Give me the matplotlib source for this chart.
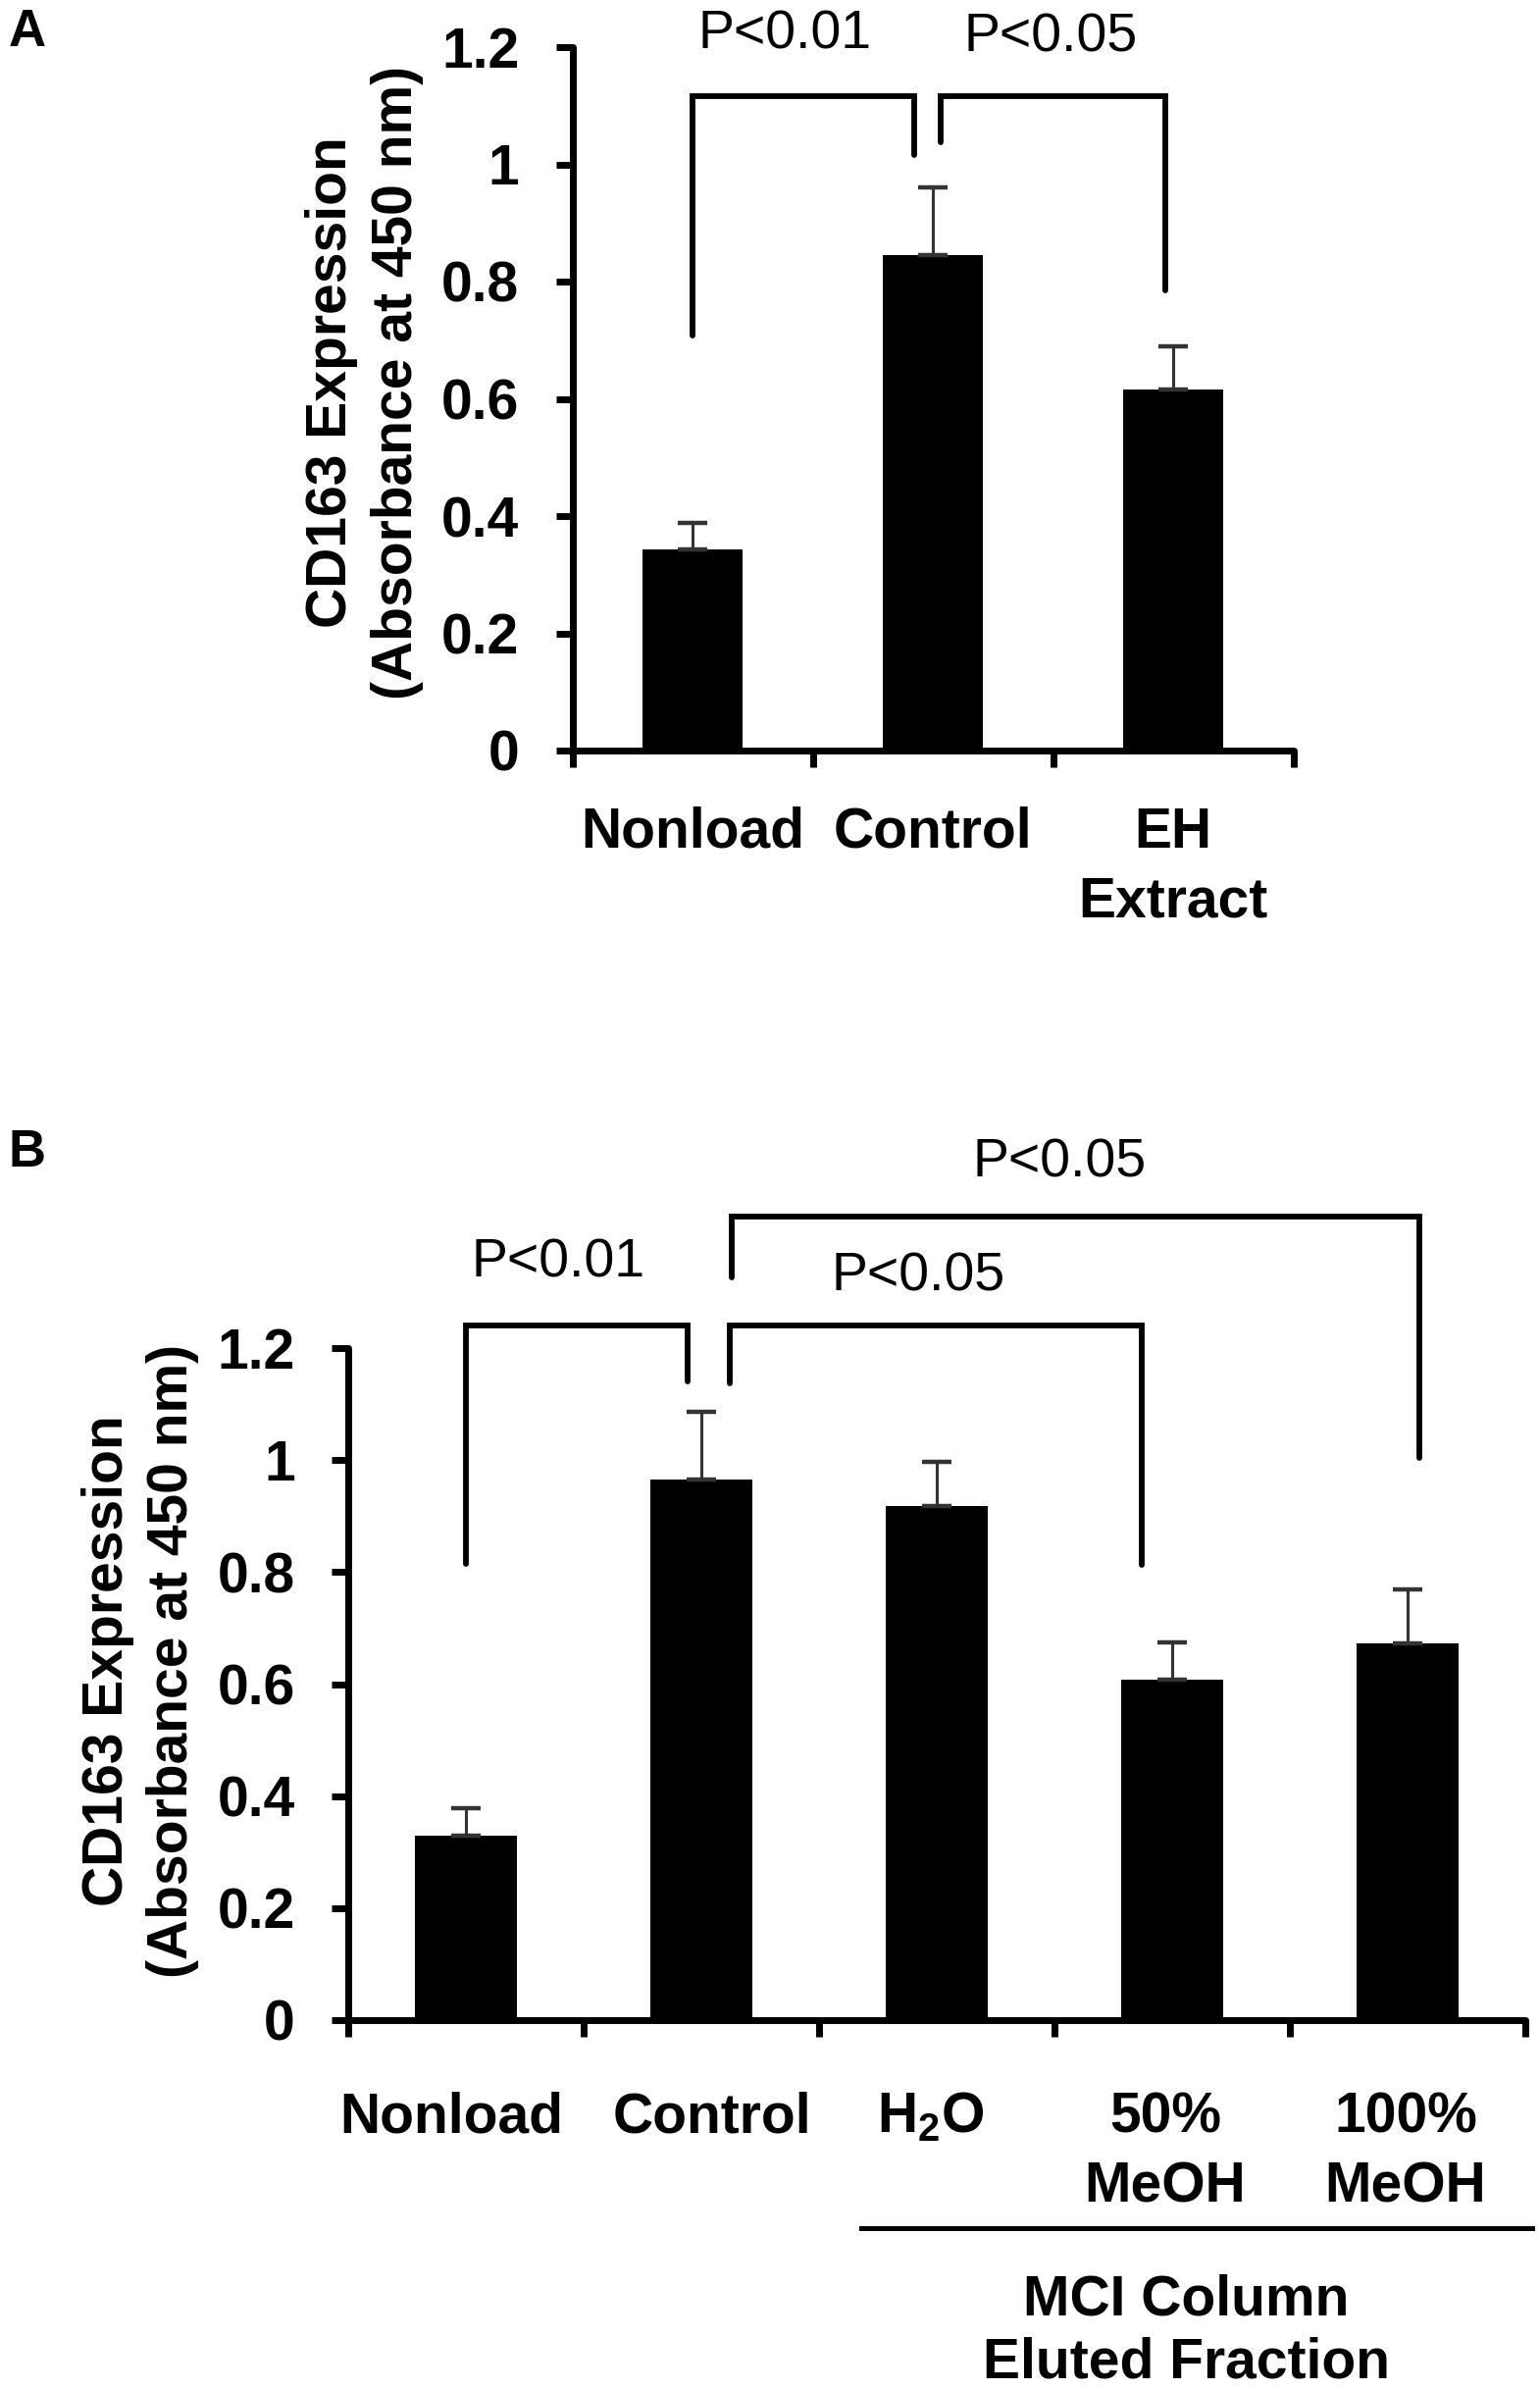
import numpy as np
import matplotlib
matplotlib.use('Agg')
import matplotlib.pyplot as plt
from matplotlib.transforms import ScaledTranslation

plt.rcParams['font.family'] = ['Liberation Sans', 'DejaVu Sans']
plt.rcParams['mathtext.fontset'] = 'custom'
plt.rcParams['mathtext.rm'] = 'Liberation Sans'
plt.rcParams['mathtext.bf'] = 'Liberation Sans:bold'

# ---------------- data ----------------
a_categories = ['Nonload', 'Control', 'EH\nExtract']
a_values = [0.343, 0.845, 0.616]
a_errors = [0.045, 0.116, 0.074]

b_categories = ['Nonload', 'Control', r'H$_\mathbf{2}$O', '50%\nMeOH', '100%\nMeOH']
b_values = [0.329, 0.965, 0.918, 0.608, 0.672]
b_errors = [0.049, 0.121, 0.079, 0.066, 0.097]

y_ticks = [0, 0.2, 0.4, 0.6, 0.8, 1.0, 1.2]
y_ticklabels = ['0', '0.2', '0.4', '0.6', '0.8', '1', '1.2']

y_label = 'CD163 Expression\n(Absorbance at 450 nm)'
group_label = 'MCI Column\nEluted Fraction'

# significance annotations: (x_left, y_left_bottom, x_right, y_right_bottom, y_top)
a_brackets = [(0.0, 0.708, 0.922, 1.016, 1.116),
              (1.033, 1.038, 1.967, 0.785, 1.116)]
a_ptexts = [('P<0.01', 0.384, 1.197), ('P<0.05', 1.49, 1.193)]

b_brackets = [(0.0, 0.814, 0.942, 1.140, 1.240),
              (1.12, 1.137, 2.871, 0.813, 1.240),
              (1.13, 1.327, 4.05, 1.003, 1.434)]
b_ptexts = [('P<0.01', 0.39, 1.327), ('P<0.05', 1.92, 1.303), ('P<0.05', 2.52, 1.506)]

# ---------------- figure ----------------
W, H = 1570, 2436
fig = plt.figure(figsize=(W / 100, H / 100), dpi=100)


def px_axes(left, right, top, bottom):
    return fig.add_axes([left / W, 1 - bottom / H, (right - left) / W, (bottom - top) / H])


FS = 41


def style_axes(ax, cats, vals, errs, label_pad, bar_w, label_dx=None):
    n = len(cats)
    x = np.arange(n)
    ax.bar(x, vals, width=bar_w, color='black', zorder=3)
    ax.errorbar(x, vals, yerr=[np.zeros(n), errs], fmt='none', ecolor='#333333',
                elinewidth=2.2, capsize=10.5, capthick=3.2, zorder=4)
    ax.set_xlim(-0.5, n - 0.5)
    ax.set_ylim(0, 1.2)
    for s in ['top', 'right']:
        ax.spines[s].set_visible(False)
    for s in ['left', 'bottom']:
        ax.spines[s].set_linewidth(5)
        ax.spines[s].set_capstyle('round')
    ax.set_yticks(y_ticks)
    ax.set_yticklabels(y_ticklabels, fontsize=FS, fontweight='bold')
    ax.tick_params(axis='y', direction='out', length=12, width=5, pad=27)
    ax.set_xticks(x)
    ax.set_xticklabels(cats, fontsize=FS, fontweight='bold', linespacing=1.4)
    ax.tick_params(axis='x', which='major', length=0, pad=label_pad)
    ax.set_xticks(np.arange(-0.5, n, 1.0), minor=True)
    ax.tick_params(axis='x', which='minor', direction='out', length=12, width=5)
    ax.patch.set_alpha(0)
    if label_dx is not None:
        for lab, dx in zip(ax.get_xticklabels(), label_dx):
            lab.set_transform(lab.get_transform() + ScaledTranslation(dx / 100, 0, fig.dpi_scale_trans))


def draw_brackets(ax, brackets, ptexts):
    for (x1, y1, x2, y2, yh) in brackets:
        ax.plot([x1, x1, x2, x2], [y1, yh, yh, y2], color='black', lw=4.2,
                clip_on=False, solid_capstyle='round', solid_joinstyle='miter', zorder=5)
    for (t, x, y) in ptexts:
        ax.text(x, y, t, ha='center', va='baseline', fontsize=40, clip_on=False)


# Panel A
axA = px_axes(583.5, 1318.5, 48, 765)
style_axes(axA, a_categories, a_values, a_errors, label_pad=41, bar_w=0.42)
draw_brackets(axA, a_brackets, a_ptexts)

# Panel B
axB = px_axes(355, 1555, 1374, 2059)
style_axes(axB, b_categories, b_values, b_errors, label_pad=52, bar_w=0.43,
           label_dx=[-15, 11, -6, -7, -2])
draw_brackets(axB, b_brackets, b_ptexts)

# group line and label under B
axB.plot([1.68, 4.53], [-0.371, -0.371], color='black', lw=3.6, clip_on=False)
axB.text(3.06, -0.452, group_label, ha='center', va='top', fontsize=41,
         fontweight='bold', linespacing=1.25, clip_on=False)

# y labels
fig.text(371.5 / W, 1 - 390 / H, y_label, rotation=90, ha='center', va='center',
         fontsize=41, fontweight='bold', linespacing=1.3, multialignment='center')
fig.text(143 / W, 1 - 1693 / H, y_label, rotation=90, ha='center', va='center',
         fontsize=41, fontweight='bold', linespacing=1.3, multialignment='center')

# panel letters
fig.text(9 / W, 1 - 47 / H, 'A', ha='left', va='baseline', fontsize=38, fontweight='bold')
fig.text(9 / W, 1 - 1189 / H, 'B', ha='left', va='baseline', fontsize=38, fontweight='bold')

fig.savefig('out.png', dpi=100, facecolor='white')
